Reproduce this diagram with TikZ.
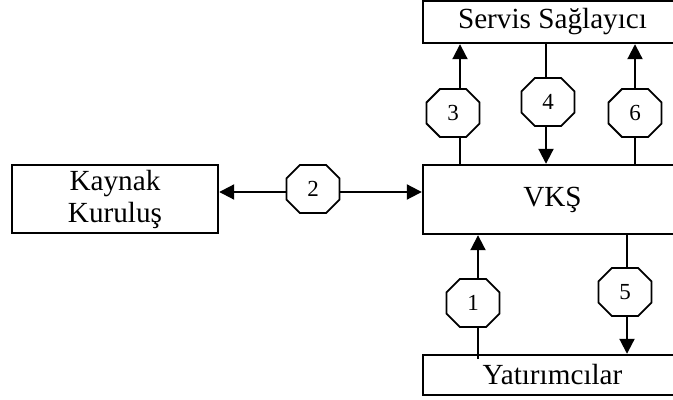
\documentclass[tikz,border=0pt]{standalone}
\usepackage{fontspec}
\setmainfont{Liberation Serif}
\usetikzlibrary{arrows.meta,shapes.misc}

\tikzset{
  entity/.style={draw, line width=1.2pt, inner sep=0pt, align=center,
    font=\fontsize{14.6pt}{16pt}\selectfont},
  stepmark/.style={draw, fill=white, line width=0.9pt, chamfered rectangle,
    chamfered rectangle xsep=6.8pt, chamfered rectangle ysep=7pt,
    minimum width=26.5pt, minimum height=24pt, inner sep=0pt,
    font=\fontsize{11.5pt}{13pt}\selectfont},
  flow/.style={line width=1pt, -{Triangle[length=7.5pt,width=7.5pt]}},
  twoway/.style={line width=1pt, {Triangle[length=7.5pt,width=7.5pt]}-{Triangle[length=7.5pt,width=7.5pt]}}
}

\begin{document}
\begin{tikzpicture}[x=0.5pt, y=-0.5pt]
  \useasboundingbox (0,0) rectangle (673,400);

  % parties
  \node[entity, minimum width=129.5pt, minimum height=21pt]   (servis) at (552.5,22)  {Servis Sağlayıcı};
  \node[entity, minimum width=129.5pt, minimum height=34.5pt] (vks)    at (552.5,199.5) {VKŞ};
  \node[entity, minimum width=129.5pt, minimum height=20pt]   (yat)    at (552.5,375) {Yatırımcılar};
  \node[entity, minimum width=103pt,   minimum height=34pt]   (kaynak) at (115,199)   {Kaynak\\Kuruluş};

  % x positions of the vertical flows, y position of the horizontal one
  \coordinate (c1) at (478,0);
  \coordinate (c3) at (460,0);
  \coordinate (c4) at (546,0);
  \coordinate (c5) at (627,0);
  \coordinate (c6) at (635,0);
  \coordinate (c2) at (0,192);

  % flows between the parties
  \draw[flow, shorten <=-2.5pt] (c1 |- yat.north) -- (c1 |- vks.south);
  \draw[twoway] (kaynak.east |- c2) -- (vks.west |- c2);
  \draw[flow] (c3 |- vks.north) -- (c3 |- servis.south);
  \draw[flow] (c4 |- servis.south) -- (c4 |- vks.north);
  \draw[flow] (c5 |- vks.south) -- (c5 |- yat.north);
  \draw[flow] (c6 |- vks.north) -- (c6 |- servis.south);

  % step numbers
  \node[stepmark] (s1) at (473,303) {1};
  \node[stepmark] (s2) at (313,189) {2};
  \node[stepmark] (s3) at (453,113) {3};
  \node[stepmark] (s4) at (548,102) {4};
  \node[stepmark] (s5) at (625,292) {5};
  \node[stepmark] (s6) at (635,113) {6};
\end{tikzpicture}
\end{document}
